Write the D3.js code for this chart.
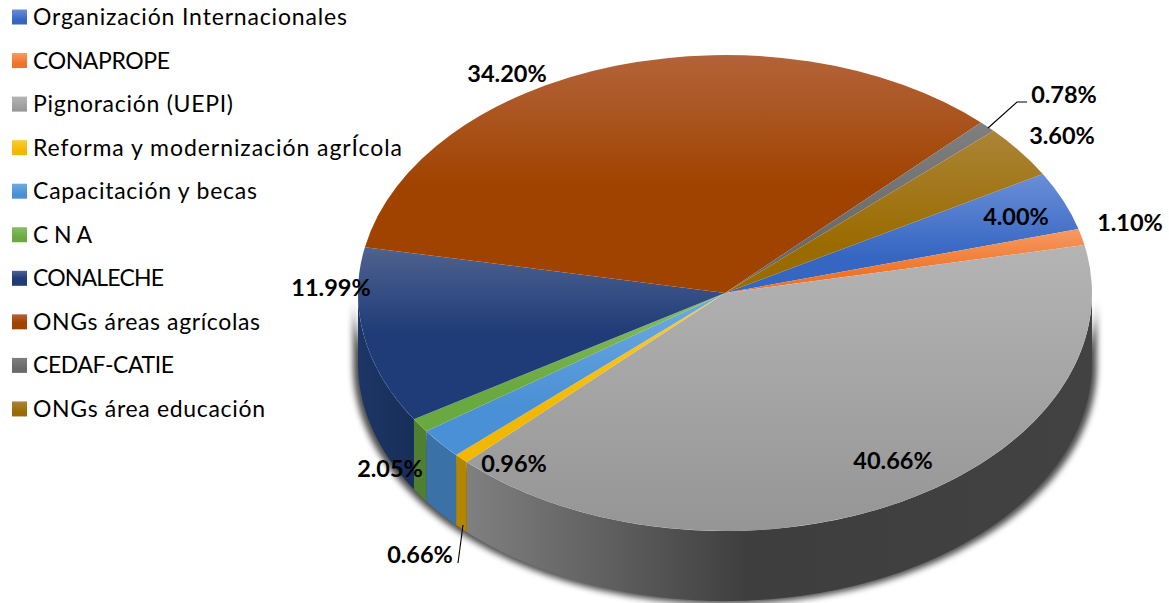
<!DOCTYPE html>
<html><head><meta charset="utf-8">
<script src="https://cdn.jsdelivr.net/npm/d3@7/dist/d3.min.js"></script>
<style>html,body{margin:0;padding:0;background:#fff}svg{display:block}</style>
</head><body><svg id="c" width="1169" height="603"></svg>
<script>
// ---- data ----
const categories = ["Organización Internacionales","CONAPROPE","Pignoración (UEPI)","Reforma y modernización agrÍcola","Capacitación y becas","C N A","CONALECHE","ONGs áreas agrícolas","CEDAF-CATIE","ONGs área educación"];
const values = [4.00,1.10,40.66,0.66,2.05,0.96,11.99,34.20,0.78,3.60];
const valueLabels = ["4.00%","1.10%","40.66%","0.66%","2.05%","0.96%","11.99%","34.20%","0.78%","3.60%"];
// ---- styles ----
const topLight = ["#6a8ed6","#f79a63","#b4b4b4","#ffcb33","#6fabe0","#86bd62","#4f628f","#b3633a","#7f7f7f","#ab8437"];
const topDark  = ["#3566c2","#ee7427","#959595","#f2b800","#4a90d6","#6aa93f","#1f3c78","#a04300","#6a6a6a","#9a6c00"];
const midStop  = [0.7,0.7,1,0.7,0.7,0.7,0.5,0.55,0.7,0.7];
const wallColor= ["#2f5597","#c55a11","#555","#b38600","#3a71a6","#4f7f30","#1b3561","#7a3400","#555","#7a5700"];
// ---- layout ----
const cx=725, cy=293, rx=367, ry=238, depth=70, startDeg=60;
const labelXY=[[1016,216],[1130,222],[893,460],[420,554],[390,468],[514,463],[331,287],[507,73],[1064,94],[1062,135]];
const leaders=[[[988,128],[1017,102],[1027,102]],[[463,525],[458,563]]];
const legendX=12, legendTop=16, legendStep=43.55, sw=15;
const legendWidths=[314,137,200,369,224,59,131,227,141,232];

const svg=d3.select("#c"), defs=svg.append("defs");
const rad=d=>d*Math.PI/180;
const pie=d3.pie().sort(null).startAngle(rad(startDeg)).endAngle(rad(startDeg+360));
const arcs=pie(values);

const blur=defs.append("filter").attr("id","blur").attr("x","-10%").attr("y","-10%").attr("width","120%").attr("height","120%");
blur.append("feGaussianBlur").attr("stdDeviation",3);
categories.forEach((c,i)=>{
  const g=defs.append("linearGradient").attr("id","g"+i).attr("x1",0).attr("y1",0).attr("x2",0).attr("y2",1);
  g.append("stop").attr("offset",0).attr("stop-color",topLight[i]);
  g.append("stop").attr("offset",midStop[i]).attr("stop-color",topDark[i]);
  g.append("stop").attr("offset",1).attr("stop-color",topDark[i]);
});
const wg=defs.append("linearGradient").attr("id","wallGray").attr("gradientUnits","userSpaceOnUse").attr("x1",465).attr("x2",1092).attr("y1",0).attr("y2",0);
[[0,"#808080"],[0.28,"#585858"],[0.45,"#3e3e3e"],[1,"#424242"]].forEach(s=>wg.append("stop").attr("offset",s[0]).attr("stop-color",s[1]));
const wn=defs.append("linearGradient").attr("id","wallNavy").attr("gradientUnits","userSpaceOnUse").attr("x1",358).attr("x2",415).attr("y1",0).attr("y2",0);
wn.append("stop").attr("offset",0).attr("stop-color","#1d3666");
wn.append("stop").attr("offset",1).attr("stop-color","#172e58");

const px=t=>cx+rx*Math.sin(t), py=t=>cy-ry*Math.cos(t);
const line=d3.line();
function wall(a0,a1){
  const n=Math.max(2,Math.ceil((a1-a0)/rad(1))), s=d3.range(n+1).map(k=>a0+(a1-a0)*k/n);
  return line(s.map(t=>[px(t),py(t)]).concat(s.slice().reverse().map(t=>[px(t),py(t)+depth])))+"Z";
}
// shadow under the body
svg.append("path").attr("d",wall(rad(90),rad(270))).attr("fill","#000").attr("opacity",.7).attr("filter","url(#blur)")
  .attr("transform",`translate(${cx},3) scale(1.013,1) translate(${-cx},0)`);
// walls, visible half only
const lo=rad(90), hi=rad(270);
arcs.forEach((a,i)=>{
  [0,2*Math.PI].forEach(off=>{
    const s=Math.max(a.startAngle-off,lo), e=Math.min(a.endAngle-off,hi);
    if(e>s) svg.append("path").attr("d",wall(s,e))
      .attr("fill",i===2?"url(#wallGray)":i===6?"url(#wallNavy)":wallColor[i]);
  });
});
// top face
const arc=d3.arc().innerRadius(0).outerRadius(rx);
const face=svg.append("g").attr("transform",`translate(${cx},${cy}) scale(1,${ry/rx})`);
face.selectAll("path").data(arcs).join("path").attr("d",arc).attr("fill",(d,i)=>`url(#g${i})`);
// leaders
svg.selectAll("path.leader").data(leaders).join("path").attr("class","leader").attr("d",line).attr("fill","none").attr("stroke","#000").attr("stroke-width",1.1);
// value labels
svg.selectAll("text.v").data(valueLabels).join("text").attr("class","v")
 .attr("x",(d,i)=>labelXY[i][0]).attr("y",(d,i)=>labelXY[i][1]).attr("text-anchor","middle").attr("dominant-baseline","central")
 .attr("font-family","Lato").attr("font-weight",700).attr("font-size",23.5).attr("fill","#000").text(d=>d);
// legend
const lg=svg.selectAll("g.l").data(categories).join("g").attr("class","l").attr("transform",(d,i)=>`translate(${legendX},${legendTop+i*legendStep})`);
lg.append("rect").attr("x",0).attr("y",-6.5).attr("width",sw).attr("height",sw).attr("fill",(d,i)=>`url(#g${i})`);
lg.append("text").attr("x",21).attr("y",0).attr("dominant-baseline","central").attr("font-family","Lato").attr("font-size",23).attr("fill","#000")
  .attr("textLength",(d,i)=>legendWidths[i]).attr("lengthAdjust","spacing").text(d=>d);
</script></body></html>
